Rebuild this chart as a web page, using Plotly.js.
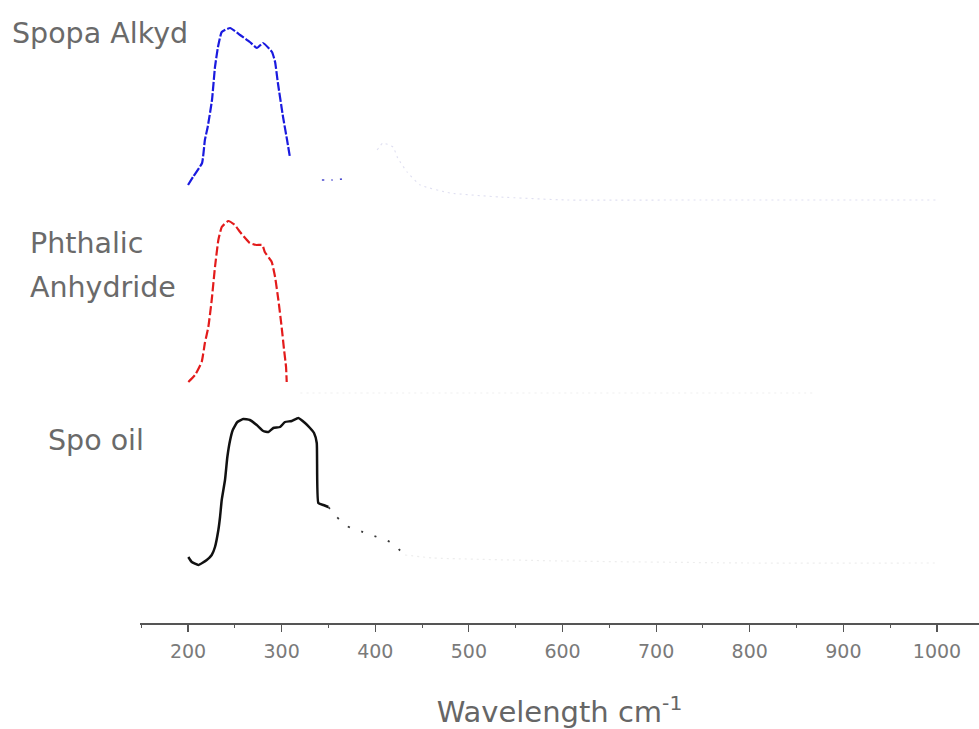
<!DOCTYPE html>
<html>
<head>
<meta charset="utf-8">
<script src="https://cdn.plot.ly/plotly-3.0.1.min.js"></script>
<style>html,body{margin:0;padding:0;background:#fff;}#chart{width:979px;height:729px;}</style>
</head>
<body>
<div id="chart"></div>
<script>
// Wavelengths and relative absorbance (baseline = 0)
const alkydMainWl  = [200, 205.3, 215, 218, 221, 225.6, 228.8, 232, 236, 245, 255.6, 266, 273.7, 280, 289.7, 293, 296, 301.5, 305.8, 309];
const alkydMainAbs = [0.15, 0.23, 0.37, 0.60, 0.73, 1.00, 1.33, 1.53, 1.68, 1.72, 1.65, 1.58, 1.52, 1.57, 1.48, 1.38, 1.17, 0.83, 0.60, 0.42];
const alkydTailWl  = [343, 354, 364.5, 371];
const alkydTailAbs = [0.20, 0.20, 0.21, 0.24];
const alkydFaintWl  = [402, 408, 419, 424, 434, 448, 480, 533, 605, 747, 1000];
const alkydFaintAbs = [0.50, 0.57, 0.53, 0.42, 0.28, 0.15, 0.07, 0.03, 0.00, 0.00, 0.00];

const phthMainWl  = [200.3, 207.5, 214.6, 218, 221.7, 225.3, 228.8, 232.4, 236, 243, 250, 255.6, 266, 273, 279.4, 282, 289.4, 293, 296.5, 300, 302.6, 304.7, 305.4];
const phthMainAbs = [0.11, 0.18, 0.31, 0.50, 0.66, 0.93, 1.26, 1.53, 1.66, 1.72, 1.68, 1.61, 1.50, 1.48, 1.48, 1.41, 1.31, 1.16, 0.93, 0.66, 0.43, 0.26, 0.11];
const phthFaintWl  = [320, 400, 500, 600, 700, 800, 870];
const phthFaintAbs = [0.00, 0.00, 0.00, 0.00, 0.00, 0.00, 0.00];

const oilMainWl  = [200.3, 204, 211, 220, 225.3, 228.8, 232.4, 234.2, 236, 239.5, 242, 245, 247.8, 252.7, 259, 266, 273.4, 280.4, 285.8, 291.1, 298.3, 303.6, 310.8, 317.8, 325, 330.3, 334.6, 337.5, 339.2, 344.6, 349.9];
const oilMainAbs = [0.06, 0.01, -0.02, 0.03, 0.08, 0.16, 0.33, 0.46, 0.63, 0.83, 1.06, 1.23, 1.33, 1.41, 1.44, 1.43, 1.38, 1.32, 1.31, 1.35, 1.36, 1.41, 1.42, 1.45, 1.40, 1.35, 1.30, 1.20, 0.60, 0.58, 0.56];
const oilTailWl  = [349.9, 358.9, 369.6, 415.8, 431.8];
const oilTailAbs = [0.56, 0.46, 0.37, 0.21, 0.08];
const oilFaintWl  = [431.8, 461.8, 600, 800, 1000];
const oilFaintAbs = [0.08, 0.05, 0.02, 0.00, 0.00];

const names = ["Spopa Alkyd", "Phthalic", "Anhydride", "Spo oil"];
const tickVals = [200, 300, 400, 500, 600, 700, 800, 900, 1000];
const tickText = ["200", "300", "400", "500", "600", "700", "800", "900", "1000"];

// vertical stacking offsets
const offAlkyd = 4.23, offPhth = 2.30, offOil = 0.60;
const shift = (arr, o) => arr.map(v => v + o);

function tr(x, y, color, width, dash, opacity) {
  return {x: x, y: y, type: 'scatter', mode: 'lines', hoverinfo: 'skip',
    line: {color: color, width: width, dash: dash, shape: 'spline', smoothing: 0.4}, opacity: opacity};
}

const data = [
  tr(alkydMainWl, shift(alkydMainAbs, offAlkyd), '#1a1adf', 2.2, '9px,2px', 1),
  tr(alkydTailWl, shift(alkydTailAbs, offAlkyd), '#3535c8', 1.6, '2px,7px', 0.9),
  tr(alkydFaintWl, shift(alkydFaintAbs, offAlkyd), '#c4c4e6', 1.1, '2px,4px', 0.55),
  tr(phthMainWl, shift(phthMainAbs, offPhth), '#e31b1b', 2.2, '9px,3px', 1),
  tr(phthFaintWl, shift(phthFaintAbs, offPhth), '#e8e8e8', 1.2, '2px,4px', 0.7),
  tr(oilMainWl, shift(oilMainAbs, offOil), '#111111', 2.5, 'solid', 1),
  tr(oilTailWl, shift(oilTailAbs, offOil), '#222222', 1.8, '2px,12px', 0.9),
  tr(oilFaintWl, shift(oilFaintAbs, offOil), '#e6e6e6', 1.2, '2px,4px', 0.7)
];

const labelFont = {family: 'DejaVu Sans, Arial, sans-serif', size: 28.5, color: '#6a6a6a'};
function lab(text, px, py) {
  return {text: text, xref: 'paper', yref: 'paper', x: (px - 140) / 839, y: (623 - py) / 623,
    xanchor: 'left', yanchor: 'middle', showarrow: false, font: labelFont};
}

const layout = {
  width: 979, height: 729,
  margin: {l: 140, r: 0, t: 0, b: 106},
  paper_bgcolor: '#ffffff', plot_bgcolor: '#ffffff',
  showlegend: false,
  xaxis: {
    range: [148.7, 1044.9], showgrid: false, zeroline: false,
    showline: true, linecolor: '#555555', linewidth: 1.5,
    ticks: 'outside', ticklen: 7, tickwidth: 1.2, tickcolor: '#555555',
    tickvals: tickVals, ticktext: tickText, ticklabelstandoff: 4,
    tickfont: {family: 'DejaVu Sans, Arial, sans-serif', size: 19, color: '#7a7a7a'},
    minor: {dtick: 50, tick0: 0, ticks: 'outside', ticklen: 3, tickcolor: '#555555', tickwidth: 1, showgrid: false},
    title: {text: 'Wavelength cm<sup>-1</sup>', standoff: 40,
      font: {family: 'DejaVu Sans, Arial, sans-serif', size: 29, color: '#666666'}}
  },
  yaxis: {range: [0, 6.23], visible: false, fixedrange: true},
  annotations: [
    lab(names[0], 10, 33),
    lab(names[1], 28, 243),
    lab(names[2], 28, 287),
    lab(names[3], 46, 440)
  ]
};

Plotly.newPlot('chart', data, layout, {displayModeBar: false, staticPlot: true});
</script>
</body>
</html>
